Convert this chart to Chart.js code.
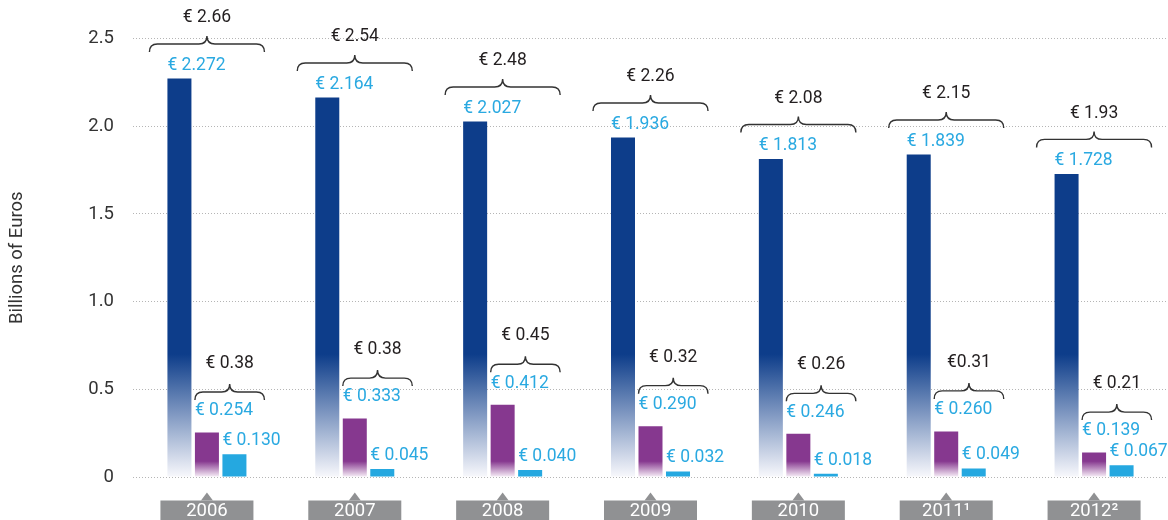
<!DOCTYPE html>
<html><head><meta charset="utf-8">
<script src="https://cdn.jsdelivr.net/npm/chart.js@4/dist/chart.umd.min.js"></script>
<style>html,body{margin:0;padding:0;background:#fff}#wrap{width:1168px;height:520px;position:relative}</style>
</head><body><div id="wrap"><canvas id="c"></canvas></div>
<script>
const categories = ["2006", "2007", "2008", "2009", "2010", "2011¹", "2012²"];
const seriesA = [2.272, 2.164, 2.027, 1.936, 1.813, 1.839, 1.728];
const seriesB = [0.254, 0.333, 0.412, 0.290, 0.246, 0.260, 0.139];
const seriesC = [0.130, 0.045, 0.040, 0.032, 0.018, 0.049, 0.067];
const topTotals = ["€ 2.66", "€ 2.54", "€ 2.48", "€ 2.26", "€ 2.08", "€ 2.15", "€ 1.93"];
const smallTotals = ["€ 0.38", "€ 0.38", "€ 0.45", "€ 0.32", "€ 0.26", "€0.31", "€ 0.21"];
const yTickLabels = ["0", "0.5", "1.0", "1.5", "2.0", "2.5"];
const yTitle = "Billions of Euros";

const NAVY = '#0d3d8a', PURPLE = '#86388f', CYAN = '#25a8e0', LBLUE = '#2aa9e1', DARK = '#231f20';
const FONT = 'Roboto, "Liberation Sans", sans-serif';

function navyGrad(ctx) {
  const chart = ctx.chart; const ca = chart.chartArea;
  if (!ca) return NAVY;
  const ys = chart.scales.y;
  const g = chart.ctx.createLinearGradient(0, ys.getPixelForValue(0.7), 0, ys.getPixelForValue(0));
  g.addColorStop(0, NAVY);
  g.addColorStop(1, '#f8f8fc');
  return g;
}
function purpleGrad(ctx) {
  const chart = ctx.chart; const ca = chart.chartArea;
  if (!ca) return PURPLE;
  const ys = chart.scales.y;
  const g = chart.ctx.createLinearGradient(0, ys.getPixelForValue(0.09), 0, ys.getPixelForValue(0));
  g.addColorStop(0, PURPLE);
  g.addColorStop(1, '#f8f0f8');
  return g;
}
const fmt = v => '€ ' + v.toFixed(3);

function brace(ctx, x1, x2, y) {
  const h = 8, r = 8, xm = (x1 + x2) / 2;
  ctx.beginPath();
  ctx.moveTo(x1, y + h);
  ctx.quadraticCurveTo(x1, y, x1 + r, y);
  ctx.lineTo(xm - r, y);
  ctx.quadraticCurveTo(xm, y, xm, y - h);
  ctx.quadraticCurveTo(xm, y, xm + r, y);
  ctx.lineTo(x2 - r, y);
  ctx.quadraticCurveTo(x2, y, x2, y + h);
  ctx.stroke();
}

const annot = {
  id: 'annot',
  afterDatasetsDraw(chart) {
    const ctx = chart.ctx;
    const mA = chart.getDatasetMeta(0).data, mB = chart.getDatasetMeta(1).data, mC = chart.getDatasetMeta(2).data;
    ctx.save();
    ctx.textBaseline = 'middle';
    ctx.strokeStyle = '#333';
    ctx.lineWidth = 1.4;
    for (let i = 0; i < categories.length; i++) {
      const a = mA[i], b = mB[i], c = mC[i];
      const aL = a.x - a.width / 2, bL = b.x - b.width / 2, cL = c.x - c.width / 2, cR = c.x + c.width / 2;
      ctx.font = '17.5px ' + FONT;
      ctx.fillStyle = LBLUE; ctx.textAlign = 'left';
      const ya = a.y - 13, yb = b.y - 21.5, yc = c.y - 13.5;
      ctx.fillText(fmt(seriesA[i]), aL, ya);
      ctx.fillText(fmt(seriesB[i]), bL, yb);
      ctx.fillText(fmt(seriesC[i]), cL, yc);
      const bx1 = aL - 18, bx2 = cR + 18, by = ya - 21.5;
      brace(ctx, bx1, bx2, by);
      ctx.fillStyle = DARK; ctx.textAlign = 'center';
      ctx.fillText(topTotals[i], (bx1 + bx2) / 2, by - 26);
      const sx1 = bL, sx2 = cR + 18, sy = Math.min(yb, yc) - 19;
      brace(ctx, sx1, sx2, sy);
      ctx.fillText(smallTotals[i], (sx1 + sx2) / 2, sy - 28.5);
    }
    // category label boxes
    const xs = chart.scales.x;
    for (let i = 0; i < categories.length; i++) {
      const xc = xs.getPixelForValue(i);
      ctx.fillStyle = '#909193';
      ctx.fillRect(xc - 46.5, 500.5, 93, 20);
      ctx.beginPath();
      ctx.moveTo(xc - 6, 500.6); ctx.lineTo(xc, 492.5); ctx.lineTo(xc + 6, 500.6); ctx.closePath(); ctx.fill();
      ctx.fillStyle = '#ffffff'; ctx.textAlign = 'center';
      ctx.font = '18.5px ' + FONT;
      ctx.fillText(categories[i], xc, 511.5);
    }
    ctx.restore();
  }
};

new Chart(document.getElementById('c'), {
  type: 'bar',
  data: {
    labels: categories,
    datasets: [
      { data: seriesA, backgroundColor: navyGrad },
      { data: seriesB, backgroundColor: purpleGrad },
      { data: seriesC, backgroundColor: CYAN }
    ]
  },
  options: {
    responsive: true, maintainAspectRatio: false, animation: false,
    categoryPercentage: 0.558, barPercentage: 0.873,
    layout: { padding: { top: 38.5, bottom: 43, left: 0, right: 0 } },
    plugins: { legend: { display: false }, tooltip: { enabled: false } },
    scales: {
      x: { display: false },
      y: {
        min: 0, max: 2.5,
        afterFit(s) { s.width = 133; },
        ticks: { stepSize: 0.5, padding: 19, color: '#333', font: { family: FONT, size: 18.5 },
          callback: (v, i) => yTickLabels[i] },
        grid: { color: '#b5b5b5', drawTicks: false, lineWidth: 1 },
        border: { display: false, dash: [1, 2] },
        title: { display: true, text: yTitle, color: '#333', font: { family: FONT, size: 18.5 }, padding: { top: 6, bottom: 0 } }
      }
    }
  },
  plugins: [annot]
});
</script></body></html>
